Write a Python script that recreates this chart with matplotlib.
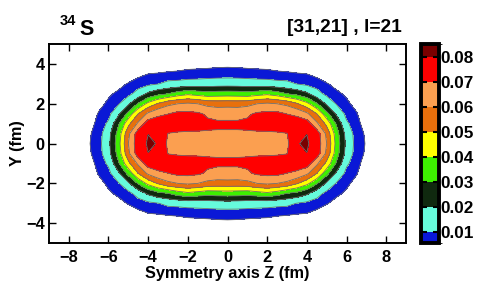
import numpy as np
import matplotlib
matplotlib.use("Agg")
import matplotlib.pyplot as plt

plt.rcParams['font.family'] = ['Liberation Sans', 'DejaVu Sans']
plt.rcParams['font.weight'] = 'bold'

# Grid coordinates (fm) of one quadrant (Z >= 0, Y >= 0); mirrored for the full plane
z_half = [0.0, 0.5, 1.0, 1.5, 2.0, 2.5, 3.0, 3.5, 4.0, 4.5, 5.0, 5.5, 6.0, 6.5, 7.0, 7.5, 8.0, 8.5, 9.0]
y_half = [0.0, 0.5, 1.0, 1.5, 2.0, 2.5, 3.0, 3.5, 4.0, 4.5, 5.0]

# Density (fm^-3), one list per Z value, entries for Y = 0 ... 5
density_cols = [
    [0.066, 0.069, 0.0715, 0.067, 0.0563, 0.0353, 0.0156, 0.0062, 0.0044, 0.0021, 0.0009],
    [0.066, 0.069, 0.0715, 0.067, 0.0559, 0.0349, 0.0153, 0.0062, 0.0043, 0.0021, 0.0009],
    [0.066, 0.069, 0.072, 0.0685, 0.057, 0.034, 0.0146, 0.006, 0.0042, 0.0021, 0.0009],
    [0.066, 0.0685, 0.0745, 0.0715, 0.060, 0.036, 0.0139, 0.0059, 0.0041, 0.002, 0.0009],
    [0.066, 0.0685, 0.075, 0.0725, 0.0615, 0.038, 0.0135, 0.0058, 0.004, 0.0019, 0.0008],
    [0.0665, 0.069, 0.075, 0.0725, 0.060, 0.035, 0.0125, 0.0055, 0.0038, 0.0018, 0.0008],
    [0.068, 0.0698, 0.075, 0.0698, 0.0576, 0.030, 0.012, 0.0054, 0.0035, 0.0016, 0.0007],
    [0.0797, 0.079, 0.0745, 0.0683, 0.051, 0.027, 0.0098, 0.0052, 0.003, 0.0014, 0.0006],
    [0.0808, 0.0799, 0.0753, 0.062, 0.043, 0.022, 0.008, 0.005, 0.0027, 0.0012, 0.0005],
    [0.0767, 0.076, 0.062, 0.050, 0.031, 0.014, 0.006, 0.0044, 0.0022, 0.001, 0.0005],
    [0.060, 0.0575, 0.0472, 0.0331, 0.0183, 0.0075, 0.0052, 0.0033, 0.0017, 0.0008, 0.0004],
    [0.036, 0.034, 0.0284, 0.018, 0.0092, 0.0055, 0.0042, 0.0023, 0.0011, 0.0005, 0.0003],
    [0.0175, 0.0163, 0.0115, 0.0075, 0.0055, 0.0046, 0.0027, 0.0015, 0.0008, 0.0004, 0.0002],
    [0.0068, 0.0064, 0.0057, 0.0052, 0.0042, 0.0027, 0.0017, 0.0009, 0.0005, 0.0002, 0.0001],
    [0.0047, 0.0045, 0.004, 0.0031, 0.0023, 0.0015, 0.0009, 0.0005, 0.0003, 0.0001, 0.0001],
    [0.0023, 0.0022, 0.002, 0.0016, 0.0011, 0.0008, 0.0005, 0.0003, 0.0002, 0.0001, 0.0001],
    [0.001, 0.001, 0.0009, 0.0007, 0.0005, 0.0004, 0.0002, 0.0001, 0.0001, 0.0001, 0.0001],
    [0.0005, 0.0005, 0.0004, 0.0003, 0.0002, 0.0001, 0.0001, 0.0001, 0.0001, 0.0001, 0.0001],
    [0.0002, 0.0002, 0.0002, 0.0001, 0.0001, 0.0001, 0.0001, 0.0001, 0.0001, 0.0001, 0.0001],
]

levels = [0.0055, 0.01, 0.02, 0.03, 0.04, 0.05, 0.06, 0.07, 0.08, 0.0852]
band_colors = ['#0a18d6', '#66fbdc', '#10290f', '#3ef000', '#ffff00',
               '#e8700c', '#fb9f50', '#ff0000', '#7a0000']
cbar_ticks = [0.01, 0.02, 0.03, 0.04, 0.05, 0.06, 0.07, 0.08]
x_ticks = [-8, -6, -4, -2, 0, 2, 4, 6, 8]
y_ticks = [-4, -2, 0, 2, 4]

# ---- build the full symmetric field ----
zh = np.array(z_half)
yh = np.array(y_half)
q = np.array(density_cols).T            # shape (nY, nZ)
z_full = np.concatenate([-zh[:0:-1], zh])
y_full = np.concatenate([-yh[:0:-1], yh])
q = np.concatenate([q[:, :0:-1], q], axis=1)
rho = np.concatenate([q[:0:-1, :], q], axis=0)
Zg, Yg = np.meshgrid(z_full, y_full)

fig = plt.figure(figsize=(4.8, 2.86), dpi=100)
ax = fig.add_axes([0.102, 0.150, 0.744, 0.696])
cax = fig.add_axes([0.878, 0.150, 0.036, 0.696])

fill_levels = [0.005] + levels[1:]
cf = ax.contourf(Zg, Yg, rho, levels=fill_levels, colors=band_colors)
ax.contour(Zg, Yg, rho, levels=fill_levels[:-1], colors='#6e6e6e', linewidths=0.6)

ax.set_xlim(-9, 9)
ax.set_ylim(-5, 5)
ax.set_xticks(x_ticks)
ax.set_yticks(y_ticks)
ax.tick_params(direction='in', length=5, width=1.0, top=True, right=True,
               labelsize=11.8)
ax.tick_params(axis='x', pad=5)
ax.tick_params(axis='y', pad=3)
for s in ax.spines.values():
    s.set_linewidth(1.4)
ax.set_xlabel('Symmetry axis Z (fm)', fontsize=11.7, fontweight='bold', labelpad=0.5)
ax.set_ylabel('Y (fm)', fontsize=11.7, fontweight='bold', labelpad=1)

# colour bar drawn with proportional spacing of the density levels
from matplotlib.colors import ListedColormap, BoundaryNorm
import matplotlib.cm as cm
cmap = ListedColormap(band_colors)
norm = BoundaryNorm(levels, cmap.N)
cb = fig.colorbar(cm.ScalarMappable(norm=norm, cmap=cmap), cax=cax,
                  boundaries=levels, spacing='proportional', ticks=cbar_ticks)
cb.outline.set_linewidth(2.8)
cax.tick_params(direction='in', length=4, width=1.5, left=True, right=True,
                labelsize=12.3, pad=1)
cax.set_yticklabels(['%.2f' % t for t in cbar_ticks])
for lab in cax.get_yticklabels() + ax.get_xticklabels() + ax.get_yticklabels():
    lab.set_fontweight('bold')

fig.text(60 / 480, 1 - 25 / 286, '34', fontsize=10.5, fontweight='bold', ha='left', va='baseline')
fig.text(79 / 480, 1 - 35 / 286, 'S', fontsize=15.5, fontweight='bold', ha='left', va='baseline')
fig.text(402 / 480, 1 - 32 / 286, '[31,21] , l=21', fontsize=13.8, fontweight='bold',
         ha='right', va='baseline')

fig.savefig('out.png', dpi=100)
